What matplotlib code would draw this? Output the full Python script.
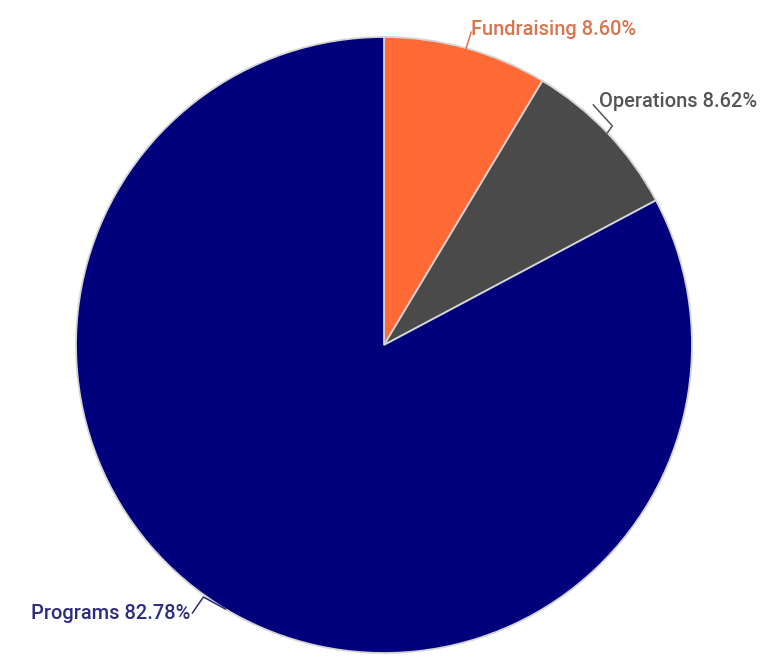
import numpy as np
from matplotlib import pyplot as plt

# Expense breakdown (percent)
categories = ["Fundraising", "Operations", "Programs"]
shares = [8.60, 8.62, 82.78]
colors = ["#ff6a36", "#4a4a4a", "#00007d"]
label_colors = ["#d8744e", "#555555", "#2c2c80"]

W, H = 768, 670
CX, CY, R = 384, H - 345, 308

# label placement relative to the slice edge point, pixels (dx, dy with y up)
label_offsets = [(5, 19), (-8, 31), (-35, -4)]
elbow_offsets = [None, (5, 7), (-22, 12)]
label_ha = ["left", "left", "right"]

fig = plt.figure(figsize=(W / 100, H / 100), dpi=100)
ax = fig.add_axes([0, 0, 1, 1])

wedges, _ = ax.pie(
    shares,
    colors=colors,
    startangle=90,
    counterclock=False,
    center=(CX, CY),
    radius=R,
    wedgeprops=dict(edgecolor="#d4d4d4", linewidth=1.3),
)

for i, w in enumerate(wedges):
    mid = np.deg2rad((w.theta1 + w.theta2) / 2)
    ex, ey = CX + R * np.cos(mid), CY + R * np.sin(mid)
    tx, ty = ex + label_offsets[i][0], ey + label_offsets[i][1]
    xs, ys = [ex], [ey]
    if elbow_offsets[i] is not None:
        xs.append(ex + elbow_offsets[i][0])
        ys.append(ey + elbow_offsets[i][1])
    if label_ha[i] == "left":
        xs.append(tx - (6 if i == 1 else 0))
        ys.append(ty - 3)
    else:
        xs.append(tx + 2)
        ys.append(ty)
    ax.plot(xs, ys, color=label_colors[i], lw=1.1)
    ax.text(
        tx,
        ty,
        f"{categories[i]} {shares[i]:.2f}%",
        ha=label_ha[i],
        va="center",
        color=label_colors[i],
        fontsize=14.4,
        fontfamily="Roboto",
        fontweight="medium",
    )

ax.set_xlim(0, W)
ax.set_ylim(0, H)
ax.set_aspect("equal")
ax.axis("off")
fig.savefig("out.png", dpi=100)
